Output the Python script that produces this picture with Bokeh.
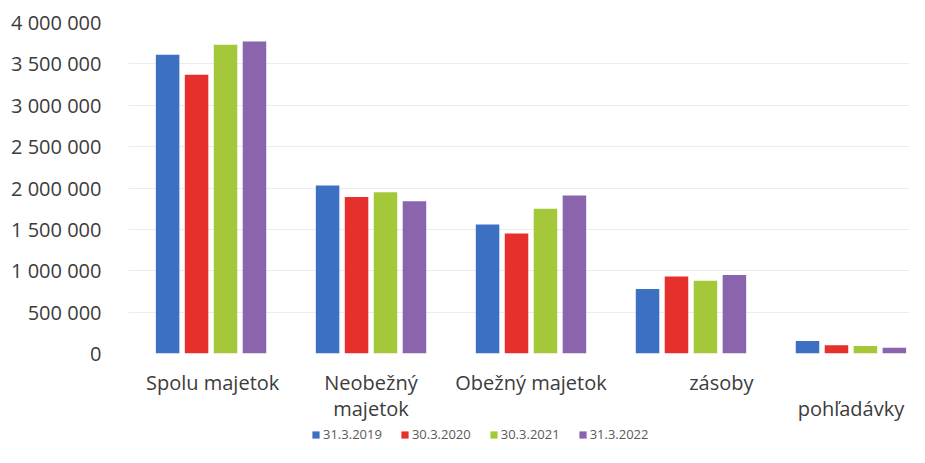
from bokeh.plotting import figure
from bokeh.layouts import column
from bokeh.models import (Range1d, FixedTicker, CustomJSTickFormatter, Legend,
                          LegendItem, ColumnDataSource)
from bokeh.embed import file_html
from bokeh.resources import INLINE

categories = ["Spolu majetok", "Neobežný\nmajetok", "Obežný majetok", "zásoby", "\npohľadávky"]
series_names = ["31.3.2019", "30.3.2020", "30.3.2021", "31.3.2022"]
v_2019 = [3610000, 2030000, 1560000, 780000, 150000]
v_2020 = [3370000, 1890000, 1450000, 930000, 100000]
v_2021 = [3730000, 1950000, 1750000, 880000, 90000]
v_2022 = [3770000, 1840000, 1910000, 950000, 70000]
y_ticks = [0, 500000, 1000000, 1500000, 2000000, 2500000, 3000000, 3500000, 4000000]

series_values = [v_2019, v_2020, v_2021, v_2022]
colors = ["#3b70c2", "#e5302b", "#a5c83a", "#8b64ae"]

# style: horizontal shift of category labels (in category units)
label_dx = [0.01, 0.0, 0.0, 0.19, 0.0]

FONT = "Open Sans"
TXT = "#3c3c3c"

p = figure(width=909, height=424, output_backend="svg", toolbar_location=None,
           x_range=Range1d(-0.516, 4.366), y_range=Range1d(0, 4000000),
           min_border_left=128, min_border_right=0, min_border_top=22,
           min_border_bottom=71)
p.outline_line_color = None
p.xgrid.visible = False
p.ygrid.grid_line_color = "#ececec"
p.ygrid.grid_line_width = 1
p.yaxis.ticker = FixedTicker(ticks=y_ticks)
p.yaxis.formatter = CustomJSTickFormatter(
    code=r"return Math.round(tick).toString().replace(/\B(?=(\d{3})+(?!\d))/g, ' ');")
p.yaxis.axis_line_color = None
p.yaxis.major_tick_line_color = None
p.yaxis.minor_tick_line_color = None
p.yaxis.major_label_standoff = 21
p.yaxis.major_label_text_font = FONT
p.yaxis.major_label_text_font_size = "20px"
p.yaxis.major_label_text_color = TXT

xs = list(range(len(categories)))
label_pos = [x + d for x, d in zip(xs, label_dx)]
p.xaxis.ticker = FixedTicker(ticks=label_pos)
p.xaxis.formatter = CustomJSTickFormatter(
    args=dict(pos=label_pos, labels=categories),
    code="let b = 0; for (let i = 0; i < pos.length; i++) { if (Math.abs(pos[i] - tick) < Math.abs(pos[b] - tick)) b = i; } return labels[b];")
p.xaxis.axis_line_color = None
p.xaxis.major_tick_line_color = None
p.xaxis.minor_tick_line_color = None
p.xaxis.major_label_standoff = 9
p.xaxis.major_label_text_font = FONT
p.xaxis.major_label_text_font_size = "20px"
p.xaxis.major_label_text_color = TXT
p.xaxis.major_label_text_line_height = 0.98

step = 0.181
bw = 0.147
for i, (name, vals) in enumerate(zip(series_names, series_values)):
    src = ColumnDataSource(dict(x=[x + (i - 1.5) * step for x in xs], top=vals))
    p.vbar(x="x", top="top", width=bw, bottom=0, source=src,
           fill_color=colors[i], line_color=None)

# legend strip
lg = figure(width=909, height=23, output_backend="svg", toolbar_location=None,
            x_range=Range1d(0, 1), y_range=Range1d(0, 1),
            min_border_left=0, min_border_right=0, min_border_top=0,
            min_border_bottom=0)
lg.axis.visible = False
lg.grid.visible = False
lg.outline_line_color = None
items = []
for name, c in zip(series_names, colors):
    src = ColumnDataSource(dict(x=[float("nan")], top=[float("nan")]))
    r = lg.vbar(x="x", top="top", width=1, source=src, fill_color=c, line_color=None)
    items.append(LegendItem(label=name, renderers=[r]))
legend = Legend(items=items, orientation="horizontal", location=(183, 4),
                glyph_width=9, glyph_height=9, label_standoff=3, spacing=18,
                padding=0, margin=0, border_line_color=None,
                background_fill_alpha=0,
                label_text_font=FONT, label_text_font_size="13px",
                label_text_color="#595959", label_height=14)
lg.add_layout(legend, "center")

open("out.html", "w").write(file_html(column(p, lg, spacing=0), INLINE))
